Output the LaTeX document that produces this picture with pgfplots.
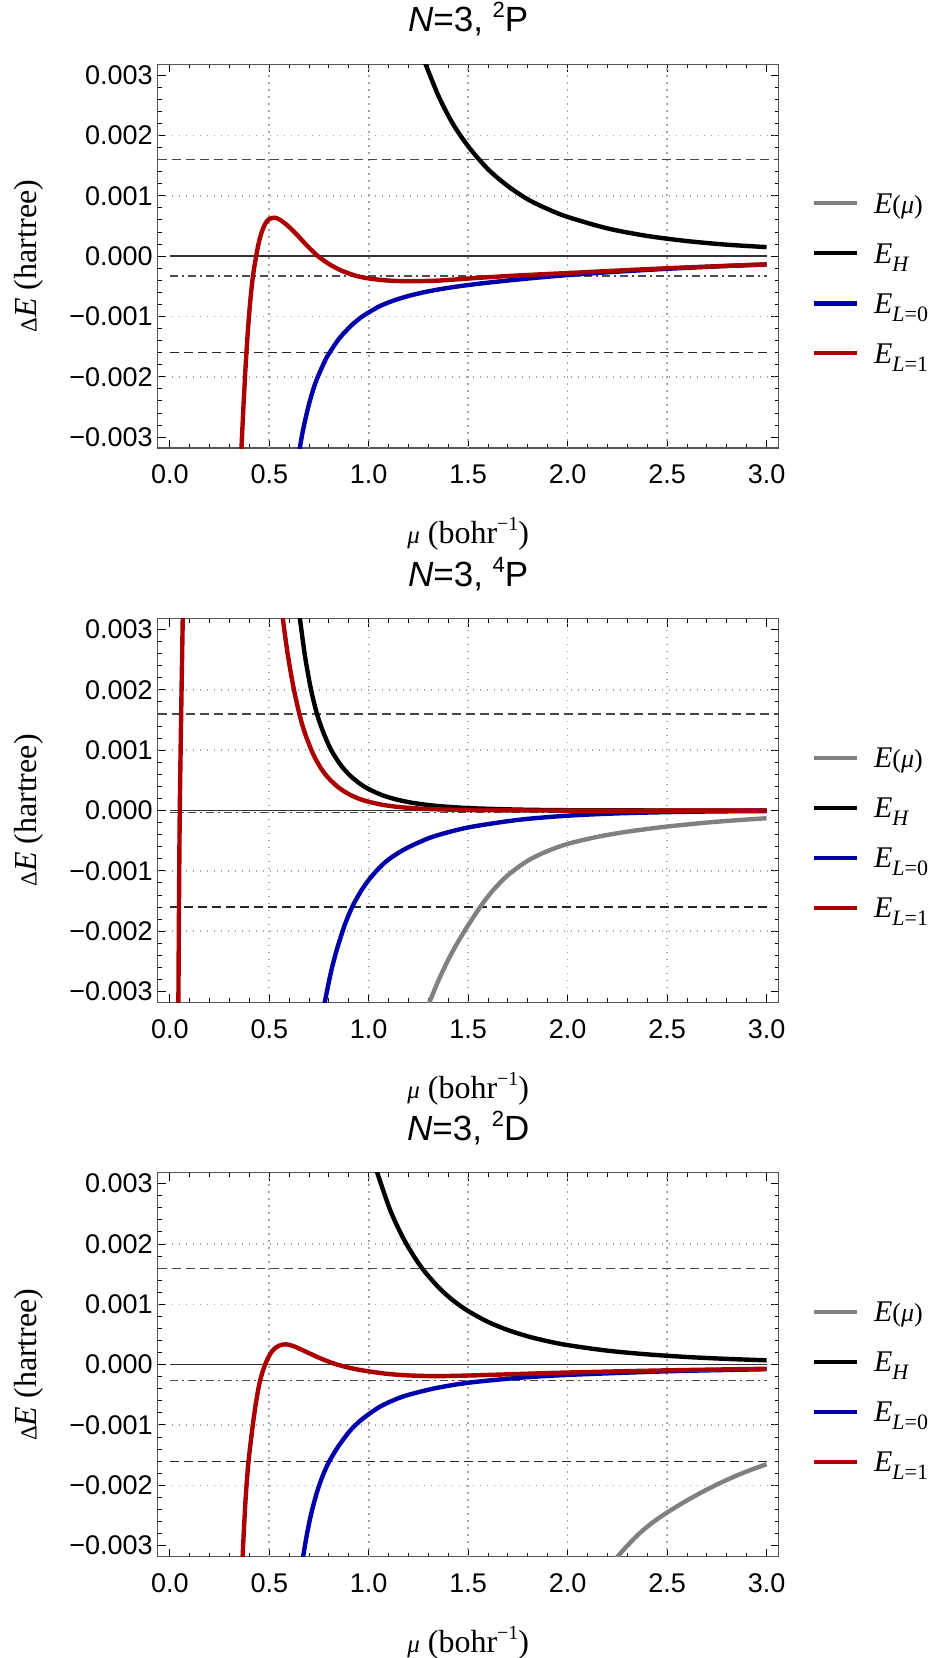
\documentclass[border=0pt]{standalone}
\usepackage{fontspec}
\setmainfont{Liberation Sans}
\newfontfamily\serif{Liberation Serif}
\usepackage{pgfplots}
\pgfplotsset{compat=1.18}

\definecolor{cgray}{RGB}{128,128,128}
\definecolor{cred}{RGB}{170,0,0}
\definecolor{cblue}{RGB}{0,0,170}
\definecolor{cgrid}{RGB}{165,165,165}
\definecolor{cframe}{RGB}{85,85,85}

\newcommand\lsub[1]{\raisebox{-4pt}{\fontsize{11}{11}\selectfont #1}}
\newcommand\legE[1]{\textit{E}\lsub{#1}}
\newcommand\legMu{\textit{E}{\fontsize{13}{13}\selectfont(\textit{μ})}}
\newcommand\tsup[1]{\raisebox{7pt}{\fontsize{11}{11}\selectfont #1}}

\pgfplotsset{
  panel/.style={
    scale only axis, width=310.5pt, height=191.85pt, anchor=north west,
    xmin=-0.061, xmax=3.061, ymin=-0.00318, ymax=0.00318,
    xtick={0,0.5,1,1.5,2,2.5,3},
    xticklabels={0.0,0.5,1.0,1.5,2.0,2.5,3.0},
    ytick={-0.003,-0.002,-0.001,0,0.001,0.002,0.003},
    yticklabels={−0.003,−0.002,−0.001,0.000,0.001,0.002,0.003},
    scaled y ticks=false, scaled x ticks=false,
    minor x tick num=4, minor y tick num=4,
    xtick pos=both, ytick pos=both,
    xticklabel pos=lower, yticklabel pos=left,
    tick align=inside,
    major tick length=4pt, minor tick length=2pt,
    tick style={black, line width=0.5pt},
    axis line style={cframe, line width=0.6pt},
    tick label style={font=\fontsize{13.5}{16}\selectfont},
    xticklabel style={yshift=-5pt},
    yticklabel style={xshift=1pt},
    extra x ticks={0.5,1,1.5,2,2.5}, extra x tick labels={},
    extra y ticks={-0.002,-0.001,0.001,0.002}, extra y tick labels={},
    extra x tick style={grid=major, major tick length=0pt},
    extra y tick style={grid=major, major tick length=0pt},
    major grid style={cgrid, line width=0.8pt, dash pattern=on 0.8pt off 2.7pt},
    title style={at={(axis description cs:0.5,1.0532)}, anchor=base,
      font=\fontsize{17.5}{17.5}\selectfont},
    xlabel={{\itshape\fontsize{12.5}{12.5}\selectfont μ} (bohr\raisebox{6.5pt}{\fontsize{10}{10}\selectfont −1})},
    x label style={at={(axis description cs:0.5,-0.2494)}, anchor=base,
      font=\serif\fontsize{16}{16}\selectfont},
    ylabel={{\fontsize{11.5}{11.5}\selectfont Δ}\textit{E} (hartree)},
    y label style={at={(axis description cs:-0.2073,0.5)}, anchor=center,
      font=\serif\fontsize{16}{16}\selectfont},
    legend style={at={(axis description cs:1.0531,0.7029)}, anchor=north west,
      draw=none, fill=none, inner sep=0pt, outer sep=0pt,
      row sep=0pt, column sep=7.5pt,
      nodes={inner sep=0pt, text height=17.5pt, text depth=7.5pt},
      font=\serif\fontsize{15}{15}\selectfont},
    legend cell align=left,
    legend image code/.code={\draw[##1] (0pt,0pt) -- (21.5pt,0pt);},
  },
  curve/.style={line width=2.2pt, smooth},
  zeroline/.style={forget plot, black!80, line width=0.7pt},
  dashline/.style={forget plot, line width=0.6pt, dash pattern=on 4.5pt off 2.5pt},
  dotdash/.style={forget plot, black!70, line width=0.6pt, dash pattern=on 4pt off 2pt on 1pt off 2pt},
}

\begin{document}
\begin{tikzpicture}
\useasboundingbox (0,0) rectangle (463.5pt,-829pt);

% ---------------- N=3, 2P
\begin{axis}[panel, at={(78.85pt,-32.15pt)},
  title={\textit{N}=3, \tsup{2}P}]
\addplot[zeroline] coordinates {(0,0) (3,0)};
\addplot[dashline, black!72] coordinates {(-0.061,0.0016) (3.061,0.0016)};
\addplot[dashline, black!85] coordinates {(0,-0.0016) (3,-0.0016)};
\addplot[dotdash] coordinates {(0,-0.00033) (3,-0.00033)};
\addlegendimage{cgray, line width=2.2pt}
\addlegendentry{\legMu}
\addplot[black, curve] table {
x y
1.28 0.00323
1.35 0.00266
1.42 0.00221
1.5 0.00182
1.6 0.00144
1.7 0.00116
1.8 0.00094
1.9 0.00078
2.0 0.00065
2.2 0.00046
2.4 0.000335
2.6 0.00025
2.8 0.00019
3.0 0.00015
};
\addlegendentry{\legE{\textit{H}}}
\addplot[cblue, curve] table {
x y
0.645 -0.00333
0.654 -0.00317
0.67 -0.002874
0.70 -0.002448
0.73 -0.002118
0.76 -0.001878
0.79 -0.001668
0.81 -0.001563
0.85 -0.001371
0.884 -0.001245
0.92 -0.001126
0.96 -0.001018
1.0 -0.000932
1.06 -0.000821
1.131 -0.000729
1.2 -0.000660
1.27 -0.000604
1.336 -0.000561
1.42 -0.000515
1.5 -0.000479
1.6 -0.000439
1.747 -0.000388
1.87 -0.000350
2.0 -0.000314
2.25 -0.000257
2.5 -0.000210
2.75 -0.000170
3.0 -0.000138
};
\addlegendentry{\legE{\textit{L}=0}}
\addplot[cred, curve] table {
x y
0.356 -0.00350
0.363 -0.00298
0.370 -0.00250
0.378 -0.00200
0.387 -0.00150
0.397 -0.00103
0.408 -0.00062
0.420 -0.00028
0.434 0.0
0.447 0.00022
0.46 0.00038
0.48 0.00054
0.50 0.000615
0.527 0.000637
0.55 0.00061
0.58 0.00054
0.62 0.00042
0.66 0.00028
0.70 0.00014
0.745 0.0
0.80 -0.00013
0.86 -0.000235
0.93 -0.00032
1.0 -0.00037
1.1 -0.000405
1.2 -0.000415
1.35 -0.000405
1.55 -0.00036
1.75 -0.00032
2.0 -0.00028
2.5 -0.000200
3.0 -0.000136
};
\addlegendentry{\legE{\textit{L}=1}}
\end{axis}

% ---------------- N=3, 4P
\begin{axis}[panel, at={(78.85pt,-309.35pt)},
  title={\textit{N}=3, \tsup{4}P}]
\addplot[zeroline] coordinates {(0,0) (3,0)};
\addplot[dashline, black!72] coordinates {(-0.061,0.0016) (3.061,0.0016)};
\addplot[dashline, black!85] coordinates {(0,-0.0016) (3,-0.0016)};
\addplot[dotdash] coordinates {(0,-0.00003) (3,-0.00003)};
\addplot[cgray, curve] table {
x y
1.30 -0.00322
1.35 -0.00282
1.40 -0.00247
1.45 -0.00217
1.50 -0.00190
1.562 -0.00159
1.62 -0.00134
1.70 -0.00107
1.80 -0.00083
1.90 -0.00067
2.0 -0.000553
2.15 -0.000435
2.3 -0.00035
2.5 -0.000265
2.75 -0.000185
3.0 -0.000127
};
\addlegendentry{\legMu}
\addplot[black, curve] table {
x y
0.645 0.00343
0.654 0.00318
0.68 0.00255
0.71 0.00200
0.74 0.00160
0.77 0.00131
0.81 0.00101
0.86 0.000751
0.91 0.000568
0.96 0.000436
1.0 0.000355
1.07 0.000252
1.14 0.000183
1.22 0.000128
1.33 0.000081
1.5 0.000041
1.75 0.000016
2.0 0.000006
2.5 0.000001
3.0 0.0
};
\addlegendentry{\legE{\textit{H}}}
\addplot[cblue, curve] table {
x y
0.765 -0.00345
0.78 -0.00316
0.81 -0.00268
0.84 -0.00230
0.88 -0.00189
0.918 -0.00159
0.96 -0.00134
1.0 -0.00115
1.05 -0.00096
1.1 -0.00081
1.17 -0.00066
1.25 -0.00053
1.335 -0.00042
1.5 -0.00028
1.75 -0.000155
2.0 -0.000085
2.25 -0.000047
2.5 -0.000026
2.75 -0.000014
3.0 -0.000008
};
\addlegendentry{\legE{\textit{L}=0}}
\addplot[cred, curve, unbounded coords=jump] table {
x y
0.043 -0.00320
0.050 0.0
0.065 0.00320
nan nan
0.560 0.00350
0.565 0.00327
0.59 0.00265
0.62 0.00207
0.652 0.00159
0.68 0.001275
0.72 0.00094
0.76 0.00070
0.80 0.00053
0.85 0.000378
0.90 0.000272
0.95 0.000197
1.0 0.000145
1.07 0.000095
1.14 0.000063
1.22 0.00004
1.33 0.000022
1.5 0.000009
1.75 0.0000025
2.0 0.0
3.0 0.0
};
\addlegendentry{\legE{\textit{L}=1}}
\end{axis}

% ---------------- N=3, 2D
\begin{axis}[panel, at={(78.85pt,-586.4pt)},
  title={\textit{N}=3, \tsup{2}D}]
\addplot[zeroline] coordinates {(0,0) (3,0)};
\addplot[dashline, black!72] coordinates {(-0.061,0.0016) (3.061,0.0016)};
\addplot[dashline, black!85] coordinates {(0,-0.0016) (3,-0.0016)};
\addplot[dotdash] coordinates {(0,-0.000266) (3,-0.000266)};
\addplot[cgray, curve] table {
x y
2.23 -0.00326
2.30 -0.00300
2.363 -0.00279
2.43 -0.00261
2.5 -0.00245
2.6 -0.00225
2.7 -0.00207
2.8 -0.00191
2.9 -0.00177
3.0 -0.00165
};
\addlegendentry{\legMu}
\addplot[black, curve] table {
x y
1.03 0.00331
1.1 0.00263
1.15 0.00225
1.2 0.00194
1.27 0.00159
1.35 0.001285
1.42 0.001075
1.5 0.000888
1.6 0.000708
1.7 0.000573
1.8 0.000469
1.9 0.000388
2.0 0.000324
2.2 0.000232
2.4 0.000171
2.6 0.000127
2.8 0.000096
3.0 0.000072
};
\addlegendentry{\legE{\textit{H}}}
\addplot[cblue, curve] table {
x y
0.66 -0.00340
0.67 -0.00318
0.69 -0.00280
0.71 -0.00248
0.74 -0.00211
0.77 -0.00183
0.802 -0.00160
0.85 -0.00134
0.905 -0.00110
0.95 -0.00095
1.0 -0.00082
1.06 -0.00069
1.131 -0.00058
1.2 -0.00050
1.335 -0.00039
1.5 -0.00030
1.747 -0.00022
2.0 -0.00017
2.5 -0.00011
3.0 -0.000075
};
\addlegendentry{\legE{\textit{L}=0}}
\addplot[cred, curve] table {
x y
0.360 -0.00362
0.366 -0.00318
0.373 -0.00270
0.381 -0.00222
0.389 -0.00185
0.397 -0.00156
0.41 -0.00119
0.422 -0.00088
0.435 -0.00059
0.449 -0.000335
0.465 -0.00013
0.479 0.0
0.49 0.000085
0.50 0.00015
0.51 0.000205
0.52 0.000245
0.535 0.000288
0.55 0.000315
0.566 0.000332
0.586 0.000338
0.62 0.00031
0.658 0.000255
0.70 0.00019
0.75 0.000115
0.80 0.000048
0.843 0.0
0.90 -0.00005
0.96 -0.00009
1.03 -0.000125
1.1 -0.000155
1.2 -0.000178
1.335 -0.00019
1.5 -0.00018
1.75 -0.000155
2.0 -0.00013
2.5 -0.000094
3.0 -0.000068
};
\addlegendentry{\legE{\textit{L}=1}}
\end{axis}
\end{tikzpicture}
\end{document}
